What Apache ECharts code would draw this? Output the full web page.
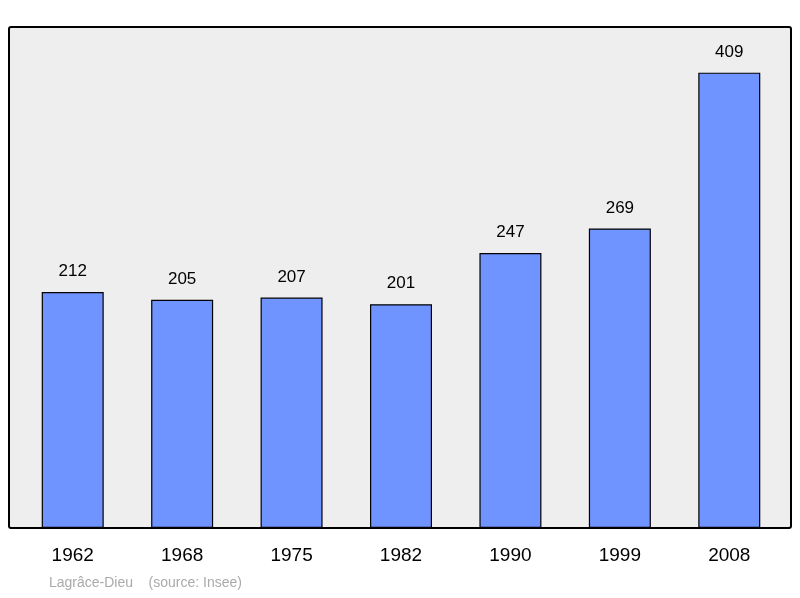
<!DOCTYPE html>
<html><head><meta charset="utf-8">
<script src="https://cdn.jsdelivr.net/npm/echarts@6/dist/echarts.min.js"></script>
<style>html,body{margin:0;padding:0;background:#fff}#c{width:800px;height:598px}</style>
</head><body><div id="c"></div>
<script>
const categories = ["1962","1968","1975","1982","1990","1999","2008"];
const population = [212,205,207,201,247,269,409];
const footer = "Lagrâce-Dieu    (source: Insee)";
const chart = echarts.init(document.getElementById('c'));
chart.setOption({
  animation:false,
  graphic:[
    {type:'rect',z:-10,shape:{x:9,y:27,width:782,height:501,r:2},style:{fill:'#eeeeee',stroke:'#000',lineWidth:2}},
    {type:'text',left:49,top:576,style:{text:footer,fill:'#aaaaaa',font:'14px "Liberation Sans", Arial, sans-serif'}}
  ],
  grid:{left:18,right:16,top:27,bottom:70},
  xAxis:{type:'category',data:categories,axisLine:{show:false},axisTick:{show:false},
    axisLabel:{color:'#000',fontSize:19,fontFamily:'Liberation Sans',margin:18}},
  yAxis:{type:'value',min:0,max:450,show:false,splitLine:{show:false}},
  series:[{type:'bar',data:population,barWidth:62,
    itemStyle:{color:'#7094ff',borderColor:'#000',borderWidth:1.2},
    label:{show:true,position:'top',distance:12,color:'#000',fontSize:17,fontFamily:'Liberation Sans'}}]
});
</script></body></html>
